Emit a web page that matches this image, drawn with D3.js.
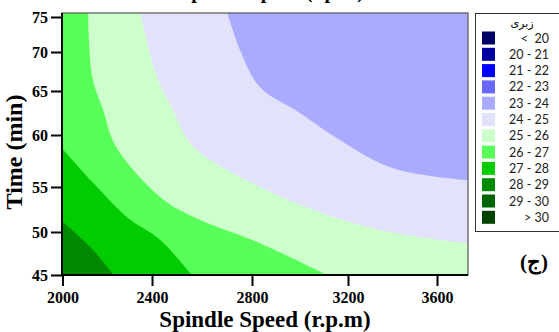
<!DOCTYPE html>
<html>
<head>
<meta charset="utf-8">
<script src="https://cdn.jsdelivr.net/npm/d3@7"></script>
<style>
  body { margin: 0; background: #fff; }
  svg { display: block; }
</style>
</head>
<body>
<div id="chart"></div>
<script>
// iso-roughness lines, as [spindle speed, time]
// each line runs from the top/left edge to the bottom/right edge
const iso24 = [[2698, 76], [2752, 70.3], [2833, 65.5], [3000, 62.5], [3167, 59.5], [3402, 56.8], [3760, 55.6]];
const iso25 = [[2345, 76], [2420, 66.8], [2484, 62.8], [2560, 59.0], [2833, 55.0], [3113, 51.9], [3402, 49.9], [3760, 48.6]];
const iso26 = [[2114, 76], [2133, 66.8], [2182, 62.8], [2236, 59.0], [2432, 53.9], [2564, 51.7], [2833, 48.7], [3140, 44.6]];
const iso27 = [[1990, 58.9], [2137, 55.4], [2290, 51.6], [2432, 49.1], [2570, 44.6]];
const iso28 = [[1990, 51.4], [2137, 47.9], [2240, 44.6]];
const isoLevels = [24, 25, 26, 27, 28];

const thresholds = [20, 21, 22, 23, 24, 25, 26, 27, 28, 29, 30];
const bandLabels = ['<  20', '20 - 21', '21 - 22', '22 - 23', '23 - 24', '24 - 25',
  '25 - 26', '26 - 27', '27 - 28', '28 - 29', '29 - 30', '> 30'];
const bandColors = ['#000066', '#0000a0', '#0000ff', '#6868ff', '#aaaaff', '#e2e2fb',
  '#ccffcc', '#58ff58', '#00cc00', '#008a00', '#006400', '#004400'];

const xTicks = [2000, 2400, 2800, 3200, 3600];
const yTicks = [45, 50, 55, 60, 65, 70, 75];

const width = 559, height = 332;
const plot = { left: 62, right: 468, top: 13, bottom: 275 };

// the source axes are not evenly spaced, so follow the tick positions
const x = d3.scaleLinear()
  .domain([2000, 2400, 2800, 3200, 3600, 3740])
  .range([62.5, 152, 252, 348, 437, plot.right]);
const y = d3.scaleLinear()
  .domain([45, 50, 55, 60, 65, 70, 75, 75.6])
  .range([plot.bottom, 232, 187, 135, 91, 52, 17, plot.top]);

const svg = d3.select('#chart').append('svg')
  .attr('width', width)
  .attr('height', height);

svg.append('clipPath').attr('id', 'plotClip')
  .append('rect')
  .attr('x', plot.left).attr('y', plot.top)
  .attr('width', plot.right - plot.left).attr('height', plot.bottom - plot.top);

// region above each level lies to the lower left of its line
const isoLine = d3.line()
  .x(d => x(d[0]))
  .y(d => y(d[1]))
  .curve(d3.curveCatmullRom.alpha(0.5));

function bandPath(pts) {
  const [s0] = x.domain(), s1 = x.domain()[x.domain().length - 1];
  const [t0] = y.domain(), t1 = y.domain()[y.domain().length - 1];
  const first = pts[0], last = pts[pts.length - 1];
  let d = isoLine(pts);
  if (last[0] > s1) d += `L${x(s1) + 6},${y(t0) + 6}`;
  d += `L${x(s0) - 6},${y(t0) + 6}`;
  if (first[1] > t1) d += `L${x(s0) - 6},${y(t1) - 6}`;
  return d + 'Z';
}

const g = svg.append('g').attr('clip-path', 'url(#plotClip)');
g.append('rect')
  .attr('x', plot.left).attr('y', plot.top)
  .attr('width', plot.right - plot.left).attr('height', plot.bottom - plot.top)
  .attr('fill', bandColors[thresholds.indexOf(isoLevels[0])]);
g.selectAll('path')
  .data([iso24, iso25, iso26, iso27, iso28])
  .enter().append('path')
  .attr('d', bandPath)
  .attr('fill', (d, i) => bandColors[thresholds.indexOf(isoLevels[i]) + 1]);

// frame
svg.append('rect')
  .attr('x', plot.left).attr('y', plot.top)
  .attr('width', plot.right - plot.left).attr('height', plot.bottom - plot.top)
  .attr('fill', 'none')
  .attr('stroke', '#555')
  .attr('stroke-width', 1.2);

const tickFont = 'Liberation Serif, Times New Roman, serif';

const xAxis = svg.append('g')
  .attr('transform', `translate(0,${plot.bottom})`)
  .call(d3.axisBottom(x).tickValues(xTicks).tickSize(11).tickPadding(6).tickFormat(d3.format('d')));
xAxis.select('.domain').attr('stroke', '#000').attr('stroke-width', 2)
  .attr('d', `M${plot.left},0H${plot.right}`);
xAxis.selectAll('.tick line').attr('stroke-width', 2);
xAxis.selectAll('.tick text')
  .attr('font-family', tickFont).attr('font-weight', 'bold').attr('font-size', 16).attr('fill', '#000');

const yAxis = svg.append('g')
  .attr('transform', `translate(${plot.left},0)`)
  .call(d3.axisLeft(y).tickValues(yTicks).tickSize(11).tickPadding(3).tickFormat(d3.format('d')));
yAxis.select('.domain').attr('stroke', '#000').attr('stroke-width', 2)
  .attr('d', `M0,${plot.top}V${plot.bottom}`);
yAxis.selectAll('.tick line').attr('stroke-width', 2);
yAxis.selectAll('.tick text')
  .attr('font-family', tickFont).attr('font-weight', 'bold').attr('font-size', 16).attr('fill', '#000');

// axis titles
svg.append('text')
  .attr('x', 265).attr('y', 327)
  .attr('text-anchor', 'middle')
  .attr('font-family', tickFont).attr('font-weight', 'bold').attr('font-size', 23)
  .text('Spindle Speed (r.p.m)');

svg.append('text')
  .attr('transform', 'translate(22,152) rotate(-90)')
  .attr('text-anchor', 'middle')
  .attr('font-family', tickFont).attr('font-weight', 'bold').attr('font-size', 24)
  .text('Time (min)');

// top title, mostly outside the image like in the original
svg.append('text')
  .attr('x', 272).attr('y', -2)
  .attr('text-anchor', 'middle')
  .attr('font-family', tickFont).attr('font-weight', 'bold').attr('font-size', 20)
  .text('Spindle Speed (r.p.m)');

// legend
const legend = svg.append('g');
legend.append('rect')
  .attr('x', 475.5).attr('y', 13.5)
  .attr('width', 100).attr('height', 218)
  .attr('fill', '#fff')
  .attr('stroke', '#333').attr('stroke-width', 1);
legend.append('text')
  .attr('x', 522).attr('y', 27)
  .attr('text-anchor', 'middle')
  .attr('font-family', 'DejaVu Sans, sans-serif').attr('font-size', 11)
  .text('زبری');
const items = legend.selectAll('g.item')
  .data(bandLabels)
  .enter().append('g')
  .attr('class', 'item')
  .attr('transform', (d, i) => `translate(0,${38 + 16.3 * i})`);
items.append('rect')
  .attr('x', 482).attr('y', -6.5)
  .attr('width', 13).attr('height', 13)
  .attr('fill', (d, i) => bandColors[i]);
items.append('text')
  .attr('x', 549).attr('y', 4.5)
  .attr('text-anchor', 'end')
  .attr('font-family', 'Lato, sans-serif').attr('font-size', 12.5)
  .attr('fill', '#222')
  .attr('xml:space', 'preserve')
  .style('white-space', 'pre')
  .text(d => d);

svg.append('text')
  .attr('x', 534).attr('y', 269)
  .attr('text-anchor', 'middle')
  .attr('font-family', tickFont).attr('font-weight', 'bold').attr('font-size', 21)
  .text('(ج)');
</script>
</body>
</html>
